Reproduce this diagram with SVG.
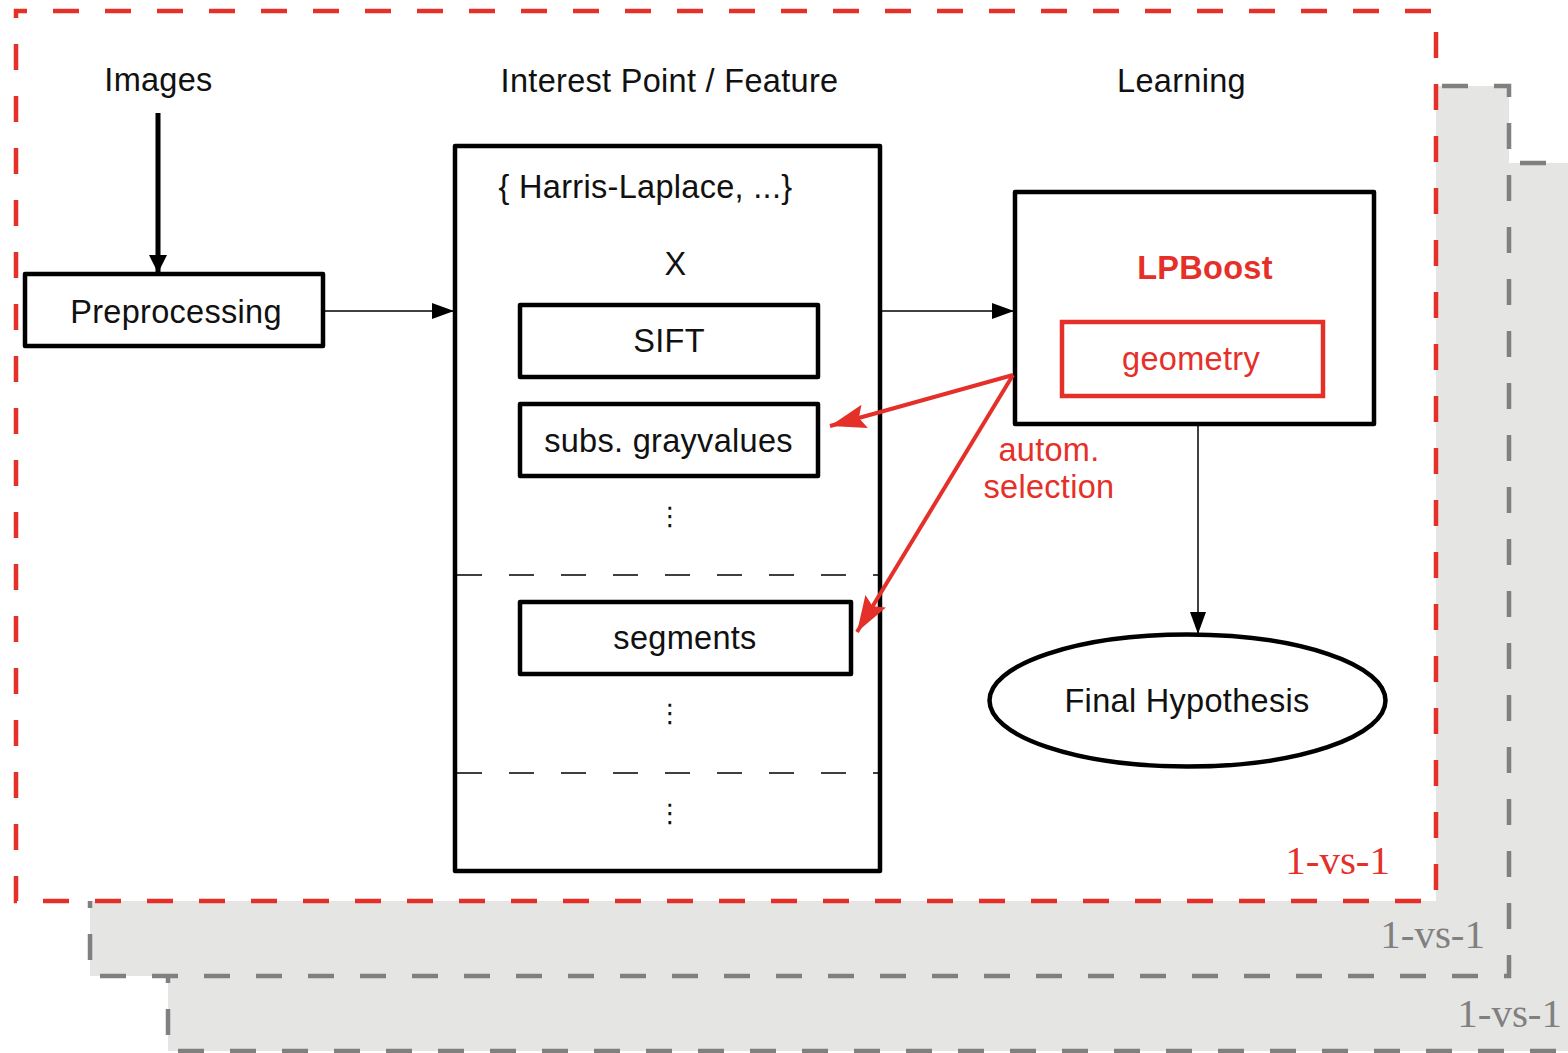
<svg xmlns="http://www.w3.org/2000/svg" width="1568" height="1053" viewBox="0 0 1568 1053">
  <style>
    .lbl { font-family: "Liberation Sans", Arial, sans-serif; font-size: 32.5px; letter-spacing: 0.3px; fill: #111; text-anchor: middle; }
    .red { fill: #e53029; }
    .bold { font-weight: bold; }
    .tag { font-family: "Liberation Serif", "Times New Roman", serif; font-size: 41px; text-anchor: end; }
    .dots { font-family: "DejaVu Sans", sans-serif; font-size: 26px; fill: #111; text-anchor: middle; }
    .box { fill: #fff; stroke: #000; stroke-width: 4.5; stroke-linejoin: round; }
    .redbox { fill: #fff; stroke: #e53029; stroke-width: 4.5; }
    .panel { fill: #e5e5e4; stroke: #808080; stroke-width: 4.5; stroke-dasharray: 26 26; }
    .frame { fill: #fff; stroke: #e53029; stroke-width: 4.5; stroke-dasharray: 26 26; stroke-dashoffset: 15; }
    .thin { stroke: #000; stroke-width: 1.5; fill: none; }
    .sep { stroke: #000; stroke-width: 1.5; stroke-dasharray: 25 27; fill: none; }
    .sel { stroke: #e53029; stroke-width: 4; fill: none; }
  </style>
  <defs>
    <marker id="headThin" markerUnits="userSpaceOnUse" viewBox="0 0 22 16" refX="22" refY="8" markerWidth="22" markerHeight="16" orient="auto">
      <path d="M0,0 L22,8 L0,16 z" fill="#000"/>
    </marker>
    <marker id="headThick" markerUnits="userSpaceOnUse" viewBox="0 0 18 18" refX="18" refY="9" markerWidth="18" markerHeight="18" orient="auto">
      <path d="M0,0 L18,9 L0,18 z" fill="#000"/>
    </marker>
    <marker id="headRed" markerUnits="userSpaceOnUse" viewBox="0 0 36 24" refX="36" refY="12" markerWidth="36" markerHeight="24" orient="auto">
      <path d="M0,0 L36,12 L0,24 L6,12 z" fill="#e53029"/>
    </marker>
  </defs>

  <!-- stacked one-vs-one panels behind the main frame -->
  <g id="panel-back">
    <rect class="panel" x="168" y="163" width="1420" height="888"/>
    <text class="tag" x="1562" y="1027" fill="#808080">1-vs-1</text>
  </g>
  <g id="panel-middle">
    <rect class="panel" x="90" y="86" width="1419" height="890"/>
    <text class="tag" x="1485" y="948" fill="#808080">1-vs-1</text>
  </g>
  <g id="panel-front">
    <rect class="frame" x="16" y="11" width="1420" height="890"/>
    <text class="tag red" x="1390" y="874">1-vs-1</text>
  </g>

  <!-- column headings -->
  <g id="heading-images"><text class="lbl" x="158.5" y="91">Images</text></g>
  <g id="heading-features"><text class="lbl" x="669.5" y="92">Interest Point / Feature</text></g>
  <g id="heading-learning"><text class="lbl" x="1181.5" y="92">Learning</text></g>

  <g id="preprocessing">
    <rect class="box" x="25" y="274" width="298" height="72"/>
    <text class="lbl" x="176" y="323">Preprocessing</text>
  </g>

  <g id="features">
    <rect class="box" x="455" y="146" width="425" height="725"/>
    <text class="lbl" x="645.5" y="198">{ Harris-Laplace, ...}</text>
    <text class="lbl" x="675.5" y="275">X</text>
    <line class="sep" x1="457" y1="575" x2="882" y2="575"/>
    <line class="sep" x1="457" y1="773" x2="882" y2="773"/>
    <text class="dots" x="670" y="525">⋮</text>
    <text class="dots" x="670" y="722">⋮</text>
    <text class="dots" x="670" y="822">⋮</text>
  </g>
  <g id="sift">
    <rect class="box" x="520" y="305" width="298" height="72"/>
    <text class="lbl" x="669" y="352">SIFT</text>
  </g>
  <g id="grayvalues">
    <rect class="box" x="520" y="404" width="298" height="72"/>
    <text class="lbl" x="668.5" y="452">subs. grayvalues</text>
  </g>
  <g id="segments">
    <rect class="box" x="520" y="602" width="331" height="72"/>
    <text class="lbl" x="685" y="649">segments</text>
  </g>

  <g id="lpboost">
    <rect class="box" x="1015" y="192" width="359" height="232"/>
    <text class="lbl red bold" x="1205" y="279">LPBoost</text>
  </g>
  <g id="geometry">
    <rect class="redbox" x="1062" y="322" width="261" height="74"/>
    <text class="lbl red" x="1191" y="370">geometry</text>
  </g>

  <g id="final-hypothesis">
    <ellipse class="box" cx="1187.5" cy="700.5" rx="198" ry="66"/>
    <text class="lbl" x="1187" y="712">Final Hypothesis</text>
  </g>

  <g id="selection-label">
    <text class="lbl red" x="1049" y="461">autom.</text>
    <text class="lbl red" x="1049" y="498">selection</text>
  </g>

  <!-- connectors -->
  <g id="connectors">
    <line x1="158" y1="113" x2="158" y2="273" stroke="#000" stroke-width="5" marker-end="url(#headThick)"/>
    <line class="thin" x1="325" y1="311" x2="454" y2="311" marker-end="url(#headThin)"/>
    <line class="thin" x1="882" y1="311" x2="1014" y2="311" marker-end="url(#headThin)"/>
    <line class="thin" x1="1198" y1="426" x2="1198" y2="634" marker-end="url(#headThin)"/>
    <line class="sel" x1="1013" y1="375" x2="830" y2="426" marker-end="url(#headRed)"/>
    <line class="sel" x1="1013" y1="375" x2="857" y2="632" marker-end="url(#headRed)"/>
  </g>
</svg>
